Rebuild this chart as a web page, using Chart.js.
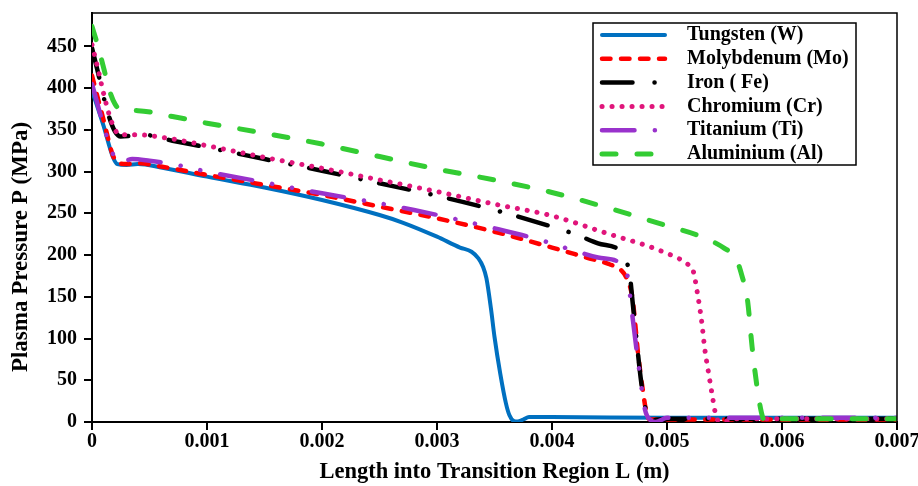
<!DOCTYPE html>
<html>
<head>
<meta charset="utf-8">
<title>Plasma Pressure vs Length into Transition Region</title>
<script src="https://cdn.jsdelivr.net/npm/chart.js@4.4.1/dist/chart.umd.min.js"></script>
<style>
  body { margin: 0; background: #fff; }
  #wrap { width: 918px; height: 486px; }
</style>
</head>
<body>
<div id="wrap"><canvas id="myChart" width="918" height="486"></canvas></div>
<script>
//Values (L in m, P in MPa)
const tungstenL = [0, 0.0001, 0.00018, 0.00022, 0.0003, 0.0004, 0.0006, 0.001, 0.0015, 0.002, 0.0025, 0.0027, 0.003, 0.0032, 0.0033, 0.00336, 0.0034, 0.00343, 0.00347, 0.0035, 0.00355, 0.0036, 0.00363, 0.00367, 0.0037, 0.00375, 0.0038, 0.004, 0.005, 0.006, 0.007];
const tungstenP = [397, 355, 318, 309, 308, 309, 305, 294, 281, 266, 248, 239, 222, 209, 204, 196, 186, 172, 135, 102, 58, 22, 8, 1, 0.5, 3, 6, 6, 5, 5, 5];

const molybdenumL = [0, 0.0001, 0.00018, 0.00022, 0.0003, 0.0004, 0.0006, 0.001, 0.0015, 0.002, 0.0025, 0.003, 0.0035, 0.004, 0.0043, 0.0045, 0.0046, 0.00465, 0.0047, 0.00475, 0.00479, 0.00482, 0.00485, 0.005, 0.006, 0.007];
const molybdenumP = [415, 362, 320, 311, 309, 310, 306, 296, 284, 272, 258, 244, 228, 209, 197, 189, 182, 172, 148, 80, 38, 12, 3, 3, 3, 3];

const ironL = [0, 0.00005, 0.0001, 0.00015, 0.0002, 0.00025, 0.00035, 0.00045, 0.0007, 0.001, 0.0015, 0.002, 0.0025, 0.003, 0.0035, 0.004, 0.0042, 0.0044, 0.0046, 0.00465, 0.00468, 0.0047, 0.00472, 0.00477, 0.0048, 0.00483, 0.00486, 0.005, 0.006, 0.007];
const ironP = [448, 420, 390, 365, 348, 342, 343, 344, 337, 329, 315, 301, 286, 271, 254, 234, 225, 214, 204, 192, 172, 145, 119, 54, 25, 8, 2, 4, 4, 4];

const chromiumL = [0, 0.00005, 0.0001, 0.00015, 0.0002, 0.00025, 0.0004, 0.0007, 0.001, 0.0015, 0.002, 0.0025, 0.003, 0.0035, 0.004, 0.0045, 0.00485, 0.005, 0.0051, 0.00517, 0.00523, 0.00526, 0.0053, 0.00533, 0.00536, 0.00539, 0.00542, 0.00545, 0.0055, 0.0056, 0.007];
const chromiumP = [452, 424, 394, 368, 350, 344, 344, 339, 331, 317, 304, 290, 276, 261, 247, 225, 210, 202, 196, 190, 180, 158, 122, 86, 60, 35, 11, 1, 1, 4, 4];

const titaniumL = [0, 0.00005, 0.0001, 0.00015, 0.0002, 0.00025, 0.00035, 0.0005, 0.0007, 0.001, 0.0015, 0.002, 0.0025, 0.0028, 0.0031, 0.0035, 0.0039, 0.0042, 0.0044, 0.0046, 0.00465, 0.00468, 0.0047, 0.00475, 0.00481, 0.00486, 0.0049, 0.005, 0.006, 0.007];
const titaniumP = [405, 380, 355, 333, 316, 311, 315, 313, 309, 300, 287, 274, 262, 254, 245, 232, 218, 205, 197, 190, 180, 150, 126, 71, 14, 2, 0, 5, 5, 5];

const aluminiumL = [0, 0.00005, 0.0001, 0.00015, 0.0002, 0.00025, 0.0004, 0.0007, 0.001, 0.0015, 0.002, 0.0025, 0.003, 0.0035, 0.004, 0.0045, 0.005, 0.0053, 0.0055, 0.0056, 0.00565, 0.0057, 0.00574, 0.00578, 0.00582, 0.00585, 0.0059, 0.006, 0.007];
const aluminiumP = [474, 451, 425, 398, 381, 374, 373, 366, 358, 346, 333, 318, 303, 290, 275, 256, 235, 222, 208, 196, 176, 146, 90, 45, 12, 1, 3, 4, 4];

//Tick values and their labels
const xTickValues = [0, 0.001, 0.002, 0.003, 0.004, 0.005, 0.006, 0.007];
const xTickLabels = ['0', '0.001', '0.002', '0.003', '0.004', '0.005', '0.006', '0.007'];
const yTickValues = [0, 50, 100, 150, 200, 250, 300, 350, 400, 450];
const yTickLabels = ['0', '50', '100', '150', '200', '250', '300', '350', '400', '450'];

const xTitle = 'Length into Transition Region L (m)';
const yTitle = 'Plasma Pressure P (MPa)';

const serif = "'Liberation Serif', 'Times New Roman', serif";

//pairs L and P into {x, y} points
const toPoints = (xs, ys) => xs.map((x, i) => ({ x: x, y: ys[i] }));

const lineDefaults = {
  pointRadius: 0,
  fill: false,
  cubicInterpolationMode: 'monotone',
  borderCapStyle: 'round',
  borderJoinStyle: 'round',
};

const datasets = [
  { ...lineDefaults, label: 'Tungsten (W)', data: toPoints(tungstenL, tungstenP), borderColor: '#0070C0', borderWidth: 4, borderDash: [], order: 6 },
  { ...lineDefaults, label: 'Molybdenum (Mo)', data: toPoints(molybdenumL, molybdenumP), borderColor: '#FF0000', borderWidth: 4.5, borderDash: [8.5, 10.5], order: 5 },
  { ...lineDefaults, label: 'Iron ( Fe)', data: toPoints(ironL, ironP), borderColor: '#000000', borderWidth: 4.5, borderDash: [30.5, 22, 0.1, 19], order: 4 },
  { ...lineDefaults, label: 'Chromium (Cr)', data: toPoints(chromiumL, chromiumP), borderColor: '#E0157B', borderWidth: 5, borderDash: [0.1, 9.9], order: 3 },
  { ...lineDefaults, label: 'Titanium (Ti)', data: toPoints(titaniumL, titaniumP), borderColor: '#9932CC', borderWidth: 4.5, borderDash: [32.5, 20.3, 0.1, 20, 0.1, 20.3], order: 2 },
  { ...lineDefaults, label: 'Aluminium (Al)', data: toPoints(aluminiumL, aluminiumP), borderColor: '#33CC33', borderWidth: 5, borderDash: [14, 21], order: 1 },
];

//Top and right edges of the plot frame
const framePlugin = {
  id: 'frame',
  afterDatasetsDraw(chart) {
    const { ctx, chartArea } = chart;
    ctx.save();
    ctx.strokeStyle = '#000';
    ctx.lineWidth = 1.5;
    ctx.beginPath();
    ctx.moveTo(chartArea.left, chartArea.top);
    ctx.lineTo(chartArea.right, chartArea.top);
    ctx.lineTo(chartArea.right, chartArea.bottom);
    ctx.stroke();
    ctx.restore();
  }
};

//Y title sits a bit below the axis middle in the original, so draw it here
const yTitlePlugin = {
  id: 'yTitle',
  afterDraw(chart) {
    const ctx = chart.ctx;
    ctx.save();
    ctx.translate(21, 247);
    ctx.rotate(-Math.PI / 2);
    ctx.fillStyle = '#000';
    ctx.font = 'bold 23px ' + serif;
    ctx.textAlign = 'center';
    ctx.textBaseline = 'middle';
    ctx.fillText(yTitle, 0, 0);
    ctx.restore();
  }
};

//Boxed legend in the upper right, line samples use each dataset's own dash
const legendPlugin = {
  id: 'boxLegend',
  afterDraw(chart) {
    const ctx = chart.ctx;
    ctx.save();
    ctx.fillStyle = '#fff';
    ctx.fillRect(593, 23, 263, 142);
    ctx.strokeStyle = '#000';
    ctx.lineWidth = 1.5;
    ctx.strokeRect(593, 23, 263, 142);
    chart.data.datasets.forEach((ds, i) => {
      const y = 35 + i * 23.8;
      ctx.beginPath();
      ctx.setLineDash(ds.borderDash);
      ctx.lineWidth = ds.borderWidth;
      ctx.strokeStyle = ds.borderColor;
      ctx.lineCap = 'round';
      ctx.moveTo(602, y);
      ctx.lineTo(665, y);
      ctx.stroke();
      ctx.setLineDash([]);
      ctx.fillStyle = '#000';
      ctx.font = 'bold 20px ' + serif;
      ctx.textBaseline = 'middle';
      ctx.textAlign = 'left';
      ctx.fillText(ds.label, 687, y);
    });
    ctx.restore();
  }
};

const ctx = document.getElementById('myChart').getContext('2d');
new Chart(ctx, {
  type: 'line',
  data: { datasets: datasets },
  plugins: [framePlugin, yTitlePlugin, legendPlugin],
  options: {
    responsive: false,
    animation: false,
    devicePixelRatio: 1,
    layout: { padding: { left: 0, top: 13, right: 21, bottom: 0 } },
    plugins: { legend: { display: false }, tooltip: { enabled: false } },
    scales: {
      x: {
        type: 'linear',
        min: 0,
        max: 0.007,
        afterBuildTicks: (axis) => { axis.ticks = xTickValues.map(v => ({ value: v })); },
        afterFit: (scale) => { scale.height = 64; scale.paddingLeft = 0; scale.paddingRight = 0; },
        ticks: {
          autoSkip: false,
          maxRotation: 0,
          padding: 0,
          color: '#000',
          font: { family: serif, size: 20, weight: 'bold' },
          callback: (v) => xTickLabels[xTickValues.indexOf(v)],
        },
        grid: { drawOnChartArea: false, drawTicks: true, tickLength: 8, color: '#000', lineWidth: 2 },
        border: { display: true, color: '#000', width: 2 },
        title: {
          display: true,
          text: xTitle,
          color: '#000',
          font: { family: serif, size: 22.5, weight: 'bold' },
          padding: { top: 2, bottom: 0 },
        },
      },
      y: {
        type: 'linear',
        min: 0,
        max: 490,
        afterBuildTicks: (axis) => { axis.ticks = yTickValues.map(v => ({ value: v })); },
        afterFit: (scale) => { scale.width = 92; scale.paddingTop = 0; scale.paddingBottom = 0; },
        ticks: {
          autoSkip: false,
          padding: 7,
          color: '#000',
          font: { family: serif, size: 20, weight: 'bold' },
          callback: (v) => yTickLabels[yTickValues.indexOf(v)],
        },
        grid: { drawOnChartArea: false, drawTicks: true, tickLength: 8, color: '#000', lineWidth: 2 },
        border: { display: true, color: '#000', width: 2 },
        title: { display: false },
      },
    },
  },
});
</script>
</body>
</html>
